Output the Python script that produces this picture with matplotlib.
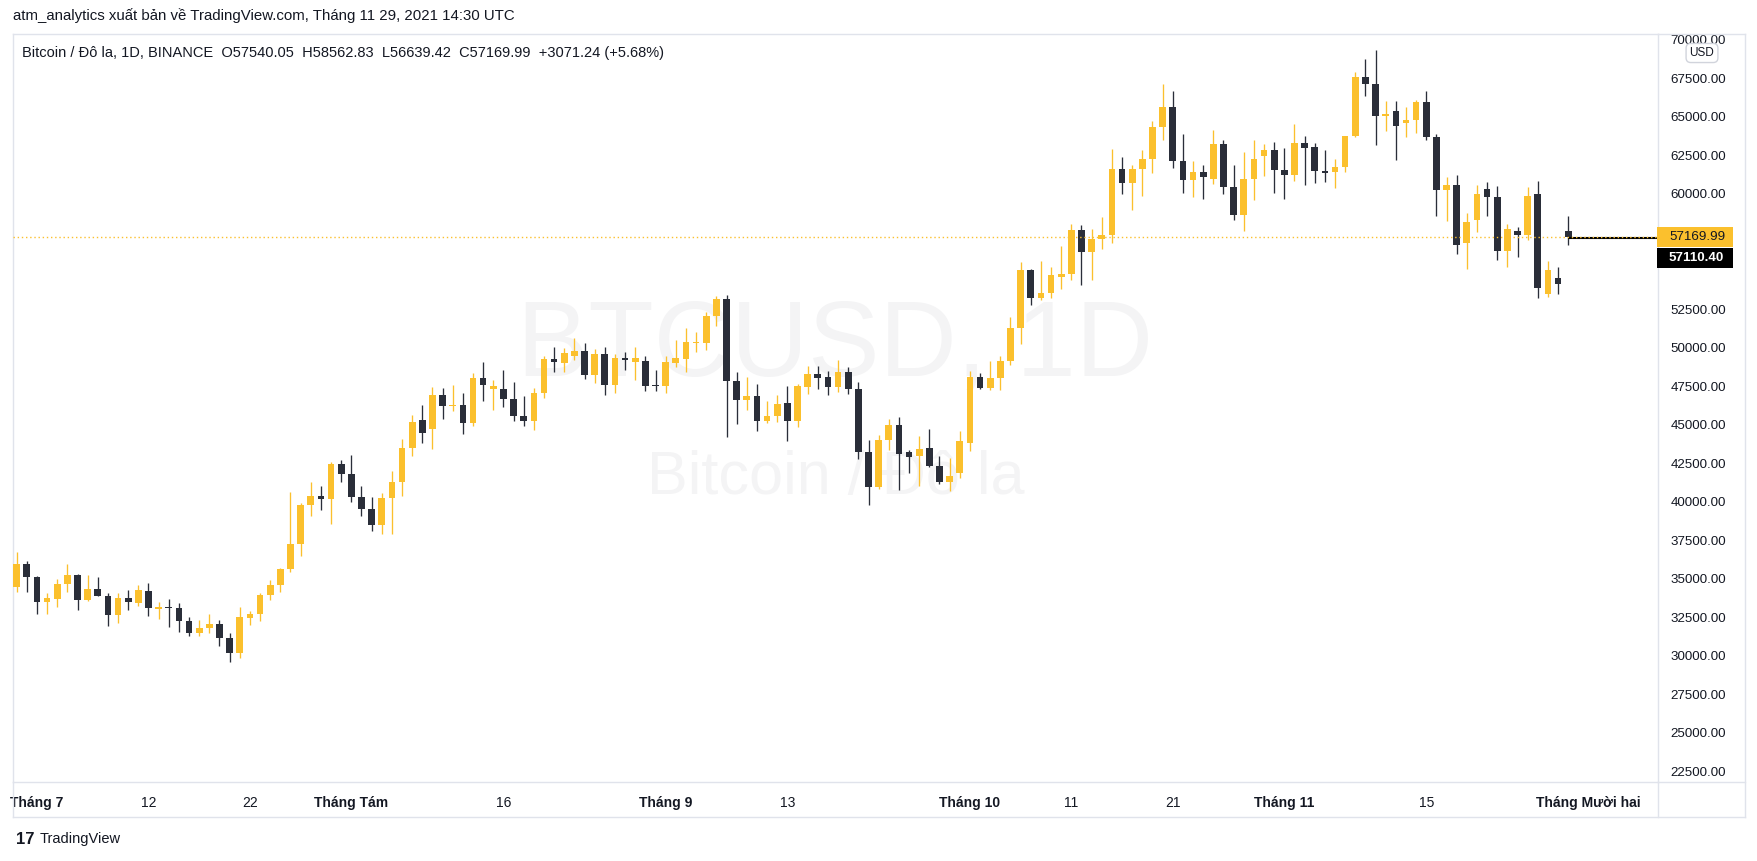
import numpy as np
import pandas as pd
import matplotlib
matplotlib.use("Agg")
import matplotlib.pyplot as plt
from matplotlib.patches import Rectangle
from matplotlib.lines import Line2D

plt.rcParams['font.family'] = ['Liberation Sans', 'DejaVu Sans']

W, H = 1758, 861
ORANGE = "#fbc02d"
DARK = "#2a2e39"
TXT = "#131722"
BORDER = "#e0e3eb"

# daily candles, 2021-06-29 .. 2021-11-29
dates = pd.date_range("2021-06-29", "2021-11-29", freq="D")

opens = [
    34470, 35940, 35120, 33490, 33670, 34640, 35230, 33610, 34320, 33880,
    32650, 33735, 33430, 34190, 33020, 33150, 33085, 32260, 31480, 31790,
    32050, 31160, 30180, 32455, 32700, 33930, 34580, 35620, 37240, 39770,
    40360, 40180, 42440, 41810, 40310, 39530, 38500, 40230, 41270, 43480,
    45300, 44730, 46920, 46200, 46270, 45120, 48020, 47330, 47300, 46680,
    45570, 45250, 47050, 49260, 49020, 49470, 49780, 48240, 49580, 47590,
    49320, 49050, 49130, 47590, 47520, 49020, 49280, 50320, 50320, 52050,
    53150, 47850, 46610, 46850, 45250, 45550, 46400, 45250, 47440, 48280,
    48090, 47460, 48410, 47330, 43240, 40960, 44000, 44970, 43220, 42980,
    43480, 42330, 41290, 41870, 43820, 48090, 47390, 48020, 49130, 51270,
    55040, 53240, 53540, 54580, 54780, 57630, 56220, 57050, 57310, 61590,
    60700, 61590, 62260, 64320, 65620, 62130, 60900, 61390, 60960, 63220,
    60450, 58630, 60960, 62470, 62850, 61550, 61220, 63280, 63020, 61480,
    61410, 61740, 63740, 67570, 67130, 65060, 65360, 64580, 64780, 65950,
    63670, 60230, 60560, 56800, 58300, 60300, 59800, 56290, 57570, 57330,
    59980, 53500, 54520, 57540.05]

highs = [
    36720, 36140, 35160, 34060, 34970, 35940, 35290, 35230, 35100, 34060,
    34060, 34250, 34580, 34710, 33480, 33670, 33400, 32500, 32310, 32700,
    32310, 31460, 33150, 32890, 34060, 34900, 35680, 40620, 39900, 41270,
    41010, 42570, 42700, 43020, 41010, 40290, 40550, 41980, 44060, 45620,
    46270, 47440, 47370, 47570, 47050, 48350, 49060, 47890, 48540, 47760,
    46850, 47370, 49450, 50040, 49970, 50620, 50300, 49910, 50040, 49580,
    49710, 50040, 49450, 48540, 49450, 50490, 51270, 51010, 52310, 53350,
    53410, 48410, 48090, 47630, 46530, 46920, 47500, 47630, 48800, 48800,
    48480, 49190, 48740, 47760, 44000, 44340, 45360, 45490, 43350, 44250,
    44710, 42960, 42830, 44580, 48480, 48350, 49130, 49450, 51980, 55550,
    55100, 55620, 55230, 56590, 58010, 57960, 57700, 58480, 62890, 62370,
    61850, 62830, 64710, 67110, 66660, 63870, 62100, 61850, 64130, 63480,
    61850, 62710, 63480, 63220, 63350, 62960, 64520, 63740, 63280, 62830,
    62240, 63740, 67890, 68740, 69320, 66010, 66010, 65620, 66080, 66660,
    63870, 61070, 61190, 58730, 60560, 60740, 60500, 58020, 57830, 60440,
    60830, 55620, 55230, 58562.83]

lows = [
    34140, 34140, 32720, 32720, 33150, 34140, 32960, 33560, 33850, 31940,
    32130, 32960, 33220, 32590, 32390, 31870, 31550, 31290, 31290, 31480,
    30640, 29600, 29860, 32000, 32260, 33600, 34140, 35440, 36480, 39080,
    39470, 38560, 41290, 39990, 39080, 38100, 37910, 37910, 40380, 42980,
    43820, 43430, 45380, 45900, 44410, 44920, 46550, 45960, 46160, 45250,
    44920, 44660, 46740, 48430, 48430, 49210, 47980, 47720, 46940, 47070,
    48560, 47910, 47200, 47200, 47070, 48760, 48430, 49730, 49840, 51400,
    44210, 45050, 45960, 44600, 45120, 45180, 43950, 44860, 47000, 47330,
    46940, 47130, 47000, 42780, 39790, 40830, 43370, 40770, 41870, 41030,
    42260, 41160, 40700, 41550, 43300, 47330, 47240, 47240, 48890, 50250,
    52780, 53110, 53240, 53820, 54410, 54080, 54410, 56420, 56810, 59990,
    58950, 59860, 61350, 63500, 61680, 60060, 59800, 59670, 60640, 59990,
    58300, 57590, 59600, 61160, 60060, 59670, 60830, 60580, 60700, 60770,
    60380, 61420, 63700, 66350, 63150, 64060, 62190, 63670, 63930, 63480,
    58530, 58210, 56070, 55120, 57520, 58560, 55700, 55250, 55900, 57000,
    53240, 53300, 53500, 56639.42]

closes = [
    35940, 35120, 33490, 33735, 34640, 35230, 33610, 34320, 33880, 32650,
    33735, 33490, 34250, 33105, 33150, 33085, 32260, 31480, 31790, 32050,
    31160, 30180, 32500, 32700, 33930, 34580, 35620, 37240, 39770, 40360,
    40180, 42440, 41810, 40310, 39530, 38500, 40230, 41270, 43480, 45160,
    44470, 46920, 46220, 46270, 45120, 48020, 47590, 47500, 46680, 45570,
    45250, 47050, 49260, 49080, 49650, 49780, 48240, 49580, 47590, 49320,
    49190, 49320, 47520, 47520, 49060, 49320, 50360, 50380, 52050, 53150,
    47850, 46610, 46850, 45250, 45550, 46330, 45250, 47500, 48280, 48040,
    47460, 48410, 47330, 43240, 40960, 44000, 44970, 43110, 42910, 43410,
    42330, 41290, 41660, 43930, 48090, 47390, 48020, 49130, 51270, 55040,
    53240, 53540, 54710, 54780, 57630, 56220, 57050, 57310, 61590, 60700,
    61590, 62260, 64320, 65620, 62130, 60900, 61390, 61090, 63220, 60450,
    58630, 60960, 62260, 62850, 61550, 61220, 63280, 62980, 61480, 61350,
    61740, 63740, 67570, 67130, 65060, 65170, 64390, 64780, 65950, 63670,
    60230, 60560, 56660, 58140, 59970, 59800, 56290, 57700, 57330, 59850,
    53890, 55040, 54098.75, 57169.99]

tick_dates = ["2021-07-01", "2021-07-12", "2021-07-22", "2021-08-01", "2021-08-16",
              "2021-09-01", "2021-09-13", "2021-10-01", "2021-10-11", "2021-10-21",
              "2021-11-01", "2021-11-15", "2021-12-01"]
tick_labels = ["Tháng 7", "12", "22", "Tháng Tám", "16", "Tháng 9", "13",
               "Tháng 10", "11", "21", "Tháng 11", "15", "Tháng Mười hai"]
price_ticks = np.arange(22500, 70001, 2500)
hidden_ticks = [55000, 57500]   # covered by the price badges

last_price = 57169.99
line_price = 57110.40

title = "atm_analytics xuất bản về TradingView.com, Tháng 11 29, 2021 14:30 UTC"
legend = ("Bitcoin / Đô la, 1D, BINANCE  O57540.05  H58562.83  L56639.42  "
          "C57169.99  +3071.24 (+5.68%)")

# ---------------------------------------------------------------
o = np.array(opens); h = np.array(highs); l = np.array(lows); c = np.array(closes)
x = np.arange(len(dates))
cols = np.where(c >= o, ORANGE, DARK)

fig = plt.figure(figsize=(W / 100, H / 100), dpi=100)

def px(xp, yp):
    return xp / W, 1 - yp / H

left, top, right, bottom = 12.7, 33.6, 1658, 782
ax = fig.add_axes([left / W, 1 - bottom / H, (right - left) / W, (bottom - top) / H])
ax.set_xlim(-0.39, 161.85)
ax.set_ylim(21786, 70387)

# watermark
ax.text(0.5, 0.58, "BTCUSD, 1D", transform=ax.transAxes, ha="center", va="center",
        fontsize=77, color="#f4f4f5", zorder=0)
ax.text(0.5, 0.406, "Bitcoin / Đô la", transform=ax.transAxes, ha="center", va="center",
        fontsize=44, color="#f4f4f5", zorder=0)

# candles
ax.vlines(x, l, h, colors=cols, lw=0.95, zorder=2)
diff = np.abs(c - o)
body_h = np.maximum(diff, 75)
body_lo = np.where(diff < 75, (o + c) / 2 - 37.5, np.minimum(o, c))
ax.bar(x, body_h, bottom=body_lo, width=0.66, color=cols, linewidth=0, zorder=3)

# price lines
ax.hlines(line_price, x[-1], 161.85, colors="black", lw=1.5, zorder=4)
ax.axhline(last_price, color=ORANGE, lw=1.0, ls=(0, (1, 2)), zorder=5)

# axes styling
for s in ax.spines.values():
    s.set_color(BORDER)
    s.set_linewidth(1)
ax.yaxis.tick_right()
ax.set_yticks(price_ticks)
ax.set_yticklabels(["" if v in hidden_ticks else f"{v:.2f}" for v in price_ticks])
ax.tick_params(axis="y", length=0, pad=9, labelsize=9.6, labelcolor=TXT)

tick_pos = [(pd.Timestamp(d) - dates[0]).days for d in tick_dates]
ax.set_xticks(tick_pos)
ax.set_xticklabels(tick_labels)
ax.tick_params(axis="x", length=0, pad=10, labelsize=10, labelcolor=TXT)
for t in ax.get_xticklabels():
    if t.get_text().startswith("Tháng"):
        t.set_fontweight("bold")

# frame around price axis and time axis
for (x0, y0, x1, y1) in [(left, 817, 1745, 817), (left, bottom, left, 817),
                         (1745, top, 1745, 817), (right, top, 1745, top),
                         (right, bottom, right, 817), (right, bottom, 1745, bottom)]:
    a, b = px(x0, y0)
    cc, d = px(x1, y1)
    fig.add_artist(Line2D([a, cc], [b, d], color=BORDER, lw=1, transform=fig.transFigure))

# price labels on the axis
fig.canvas.draw()
y_last = ax.transData.transform((0, last_price))[1]
for yc, fc, tc, txt, fw in [(y_last, ORANGE, TXT, f"{last_price:.2f}", "normal"),
                            (y_last - 21, "black", "white", f"{line_price:.2f}", "bold")]:
    fig.add_artist(Rectangle(((right - 1) / W, (yc - 10) / H), 76 / W, 20 / H,
                             transform=fig.transFigure, facecolor=fc, edgecolor="none",
                             zorder=10))
    fig.text((right + 11) / W, yc / H, txt, ha="left", va="center", fontsize=9.6,
             color=tc, fontweight=fw, zorder=11)

# USD badge
fig.text(*px(1702, 53), "USD", ha="center", va="center", fontsize=8.5, color=TXT, zorder=11,
         bbox=dict(boxstyle="round,pad=0.3,rounding_size=0.4", facecolor="white",
                   edgecolor="#d1d4dc", lw=1))

# header and footer
fig.text(*px(13, 16), title, ha="left", va="center", fontsize=10.8, color=TXT)
fig.text(*px(22, 53), legend, ha="left", va="center", fontsize=10.5, color=TXT, zorder=11)
fig.text(*px(16, 839), "17", ha="left", va="center", fontsize=12, color=TXT,
         fontweight="bold")
fig.text(*px(40, 839), "TradingView", ha="left", va="center", fontsize=10.5, color=TXT)

fig.savefig("out.png", dpi=100, facecolor="white")
